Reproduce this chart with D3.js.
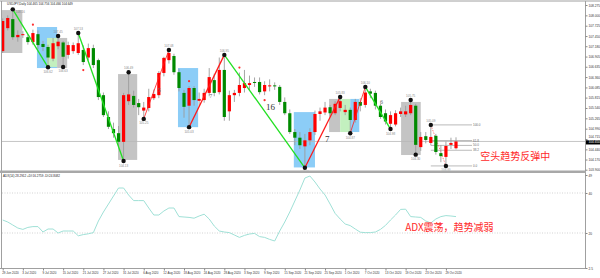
<!DOCTYPE html>
<html><head><meta charset="utf-8">
<script src="https://cdn.jsdelivr.net/npm/d3@7"></script>
<style>html,body{margin:0;padding:0;background:#fff;overflow:hidden}svg{display:block}</style>
</head><body><svg id="c" width="600" height="278"></svg>
<script>
const dates = ["2020-06-29","2020-06-30",
"2020-07-01","2020-07-02","2020-07-03","2020-07-06","2020-07-07","2020-07-08","2020-07-09","2020-07-10","2020-07-13","2020-07-14","2020-07-15","2020-07-16","2020-07-17","2020-07-20","2020-07-21","2020-07-22","2020-07-23","2020-07-24","2020-07-27","2020-07-28","2020-07-29","2020-07-30","2020-07-31",
"2020-08-03","2020-08-04","2020-08-05","2020-08-06","2020-08-07","2020-08-10","2020-08-11","2020-08-12","2020-08-13","2020-08-14","2020-08-17","2020-08-18","2020-08-19","2020-08-20","2020-08-21","2020-08-24","2020-08-25","2020-08-26","2020-08-27","2020-08-28","2020-08-31",
"2020-09-01","2020-09-02","2020-09-03","2020-09-04","2020-09-07","2020-09-08","2020-09-09","2020-09-10","2020-09-11","2020-09-14","2020-09-15","2020-09-16","2020-09-17","2020-09-18","2020-09-21","2020-09-22","2020-09-23","2020-09-24","2020-09-25","2020-09-28","2020-09-29","2020-09-30",
"2020-10-01","2020-10-02","2020-10-05","2020-10-06","2020-10-07","2020-10-08","2020-10-09","2020-10-12","2020-10-13","2020-10-14","2020-10-15","2020-10-16","2020-10-19","2020-10-20","2020-10-21","2020-10-22","2020-10-23","2020-10-26","2020-10-27","2020-10-28","2020-10-29","2020-10-30",
"2020-11-02"];
const open = [107.05,107.66,107.90,107.42,107.48,107.42,107.29,107.50,107.24,107.16,
106.85,107.18,107.28,106.95,107.05,107.00,107.08,106.88,107.13,106.81,
105.88,105.30,104.98,104.87,104.64,105.72,105.86,105.67,105.47,105.54,
105.80,105.88,106.47,106.81,106.92,106.49,105.94,105.60,106.07,105.73,
105.75,105.94,106.28,105.96,106.55,105.45,105.88,105.94,106.07,106.15,
106.23,106.23,105.98,106.12,106.14,106.10,105.70,105.40,104.90,104.75,
104.52,104.68,104.90,105.38,105.42,105.56,105.40,105.54,105.43,105.49,
105.22,105.70,105.62,105.98,105.94,105.60,105.40,105.12,105.10,105.38,
105.37,105.40,105.60,104.50,104.79,104.61,104.80,104.34,104.24,104.56,
104.47];
const high = [107.92,108.00,108.16,107.60,107.58,107.50,107.62,107.60,107.32,107.22,
107.40,107.45,107.32,107.30,107.28,107.53,107.20,107.25,107.22,106.85,
105.95,105.45,105.15,105.06,105.94,106.49,106.00,105.78,105.70,106.05,
106.03,106.52,106.90,107.08,106.98,106.58,106.02,106.12,106.12,105.95,
106.05,106.60,106.45,106.88,106.95,106.00,106.02,106.48,106.55,106.40,
106.35,106.35,106.25,106.30,106.22,106.15,105.82,105.50,104.98,104.90,
104.85,105.00,105.47,105.55,105.70,105.62,105.72,105.83,105.62,105.55,
105.78,105.80,106.10,106.05,106.00,105.65,105.50,105.45,105.48,105.55,
105.60,105.75,105.65,104.90,104.90,105.09,104.85,104.55,104.65,104.75,
104.76];
const low = [107.00,107.60,107.35,107.30,107.40,107.22,107.22,107.10,107.05,106.62,
106.78,107.10,106.63,106.85,106.98,106.95,106.68,106.80,106.60,105.75,
105.30,104.98,104.75,104.50,104.13,105.62,105.55,105.35,105.25,105.45,
105.75,105.80,106.38,106.72,106.42,105.98,105.28,105.03,105.60,105.58,
105.68,105.85,105.85,105.90,105.20,105.20,105.70,105.85,105.95,106.02,
106.10,105.90,105.88,105.98,106.02,105.62,105.35,104.85,104.55,104.45,
103.95,104.55,104.82,105.20,105.35,105.32,105.35,105.45,105.35,104.87,
105.15,105.45,105.55,105.80,105.50,105.25,105.10,104.98,105.05,105.30,
105.30,105.35,104.30,104.40,104.60,104.55,104.30,104.10,104.00,104.45,
104.44];
const close = [107.85,107.93,107.42,107.48,107.50,107.29,107.53,107.21,107.16,106.88,
107.26,107.30,106.90,107.21,107.21,107.26,106.76,107.13,106.68,105.83,
105.35,105.04,104.87,104.64,105.88,105.90,105.62,105.56,105.55,105.83,
105.91,106.47,106.87,107.00,106.49,106.07,105.57,106.07,105.75,105.78,
105.94,106.36,105.94,106.55,105.30,105.88,105.94,106.15,106.20,106.20,
106.21,105.96,106.15,106.14,106.12,105.70,105.40,104.90,104.75,104.55,
104.68,104.90,105.38,105.45,105.55,105.40,105.65,105.72,105.49,105.22,
105.70,105.60,105.95,105.92,105.60,105.30,105.18,105.35,105.40,105.45,
105.45,105.62,104.56,104.77,104.69,104.77,104.37,104.26,104.53,104.61,
104.65];
const adx = [26.5,25.5,24.0,22.5,21.8,22.8,23.2,23.2,20.5,22.0,
22.0,20.0,21.0,21.0,21.0,18.6,19.2,19.6,20.2,26.0,
30.5,34.5,38.5,42.5,42.5,39.0,36.2,36.2,36.2,32.5,
29.0,29.0,31.0,32.5,32.5,28.2,28.0,27.8,27.4,28.5,
29.4,27.0,23.5,21.0,20.5,20.2,19.0,17.8,18.8,19.5,
19.8,18.2,17.8,16.8,16.0,21.0,25.5,30.5,36.0,41.5,
47.5,48.5,45.5,42.0,39.0,34.5,29.8,27.0,24.5,23.7,
22.0,20.4,20.2,20.2,20.5,21.8,23.8,26.5,29.0,31.8,
31.9,28.2,28.0,27.8,26.0,25.0,27.0,28.2,28.7,28.5,
28.2];
const priceTicks = ["108.275","108.000","107.725","107.450","107.180","106.905","106.635","106.360","106.085","105.815","105.540","105.265","104.990","104.715","104.440","104.170","103.900"];
const adxTicks = [49, 40, 20, 2.5];
const adxLevels = [40, 20];
// pivots: bar index, 1 = swing high, 0 = swing low
const pivotIdx  = [2,9,11,12,15,24,25,28,33,37,44,60,67,69,72,77,81,82,85,88];
const pivotHigh = [1,0,1,0,1,0,1,0,1,0,1,0,1,0,1,0,1,0,1,0];
const zigFrom = [2,15,28,37,44,60,69,72];
const zigTo   = [9,24,33,44,60,67,72,77];
const zigMinor = [0,0,1,0,0,0,1,0];
const fibLevels = [1, 0.618, 0.5, 0.382, 0];
const fibLabels = ["100.0","61.8","50.0","38.2","0.0"];
const fibHighIdx = 85, fibLowIdx = 88;
const zoneStart = [-0.5,6.8,8.8,10.8,22.9,34.8,57.8,64.8,67.0,69.0,79.1];
const zoneEnd   = [3.9,10.8,10.8,12.8,26.7,38.8,62.0,67.0,69.0,70.8,83.0];
const zoneTop   = [108.14,107.69,107.40,107.40,106.44,106.60,105.43,105.78,105.78,105.78,105.70];
const zoneBottom= [107.00,106.60,106.63,106.60,104.16,105.03,103.96,104.90,104.90,104.90,104.29];
const zoneKind  = ["gray","blue","green","gray","gray","blue","blue","gray","green","blue","gray"];
const redMarkIdx = [6,16,37,47,52];
const redMarkHigh = [1,0,1,1,0];
const noteText = ["5","7","16","7","6"];
const noteIdx = [30.8,41.0,52.3,64.0,74.9];
const notePrice = [105.96,105.80,105.49,104.64,105.64];
const noteBig = [0,0,1,1,0];
const header = "USDJPY,Daily  104.465 104.756 104.466 104.649";
const adxHeader = "ADX(14) 28.2912 +DI:16.2759 -DI:24.8082";
const mainNote = "空头趋势反弹中", mainNoteIdx = 94.8, mainNotePrice = 104.16;
const adxNote = "ADX震荡，趋势减弱", adxNoteIdx = 79.9, adxNoteVal = 21;

const svg = d3.select("#c");
svg.append("rect").attr("width",600).attr("height",278).attr("fill","#fff");
const defs = svg.append("defs");
defs.append("clipPath").attr("id","cm").append("rect").attr("x",2).attr("y",1.5).attr("width",583).attr("height",169);
defs.append("clipPath").attr("id","ci").append("rect").attr("x",2).attr("y",173).attr("width",583).attr("height",95.5);

const x = d3.scaleLinear().domain([0,90]).range([2.7,456]);
const y = d3.scaleLinear().domain([103.9,108.275]).range([169.7,5]);
const ya = d3.scaleLinear().domain([0,50]).range([273,173]);
const parse = d3.timeParse("%Y-%m-%d"), fmt = d3.timeFormat("%-d %b %Y");
const zoneColor = {gray:"#c4c4c4", blue:"#8ccdf7", green:"#c3f0bf"};

const main = svg.append("g").attr("clip-path","url(#cm)");
main.selectAll("rect.z").data(zoneStart).join("rect")
  .attr("x",(d)=>x(d)).attr("width",(d,i)=>x(zoneEnd[i])-x(d))
  .attr("y",(d,i)=>y(zoneTop[i])).attr("height",(d,i)=>y(zoneBottom[i])-y(zoneTop[i]))
  .attr("fill",(d,i)=>zoneColor[zoneKind[i]]);
main.append("line").attr("x1",2).attr("x2",585).attr("y1",y(close[90])).attr("y2",y(close[90]))
  .attr("stroke","#b8b8b8").attr("stroke-width",0.8);
const fh = high[fibHighIdx], fl = low[fibLowIdx];
fibLevels.forEach((lv,k)=>{
  const py = y(fl + lv*(fh-fl));
  main.append("line").attr("x1",x(fibHighIdx)).attr("x2",472).attr("y1",py).attr("y2",py)
    .attr("stroke","#a8a8a8").attr("stroke-width",0.8);
  main.append("text").attr("x",473).attr("y",py+1).text(fibLabels[k])
    .attr("font-size",3).attr("fill","#666").attr("font-family","Liberation Sans");
});
main.append("line").attr("x1",x(fibHighIdx)).attr("y1",y(fh)).attr("x2",x(fibLowIdx)).attr("y2",y(fl))
  .attr("stroke","#ff5050").attr("stroke-width",0.7).attr("stroke-dasharray","1.5,1.2");
const idx = d3.range(dates.length);
main.selectAll("line.w").data(idx).join("line")
  .attr("x1",i=>x(i)).attr("x2",i=>x(i)).attr("y1",i=>y(high[i])).attr("y2",i=>y(low[i]))
  .attr("stroke","#9c9c9c").attr("stroke-width",0.9);
main.selectAll("rect.b").data(idx).join("rect")
  .attr("x",i=>x(i)-1.6).attr("width",3.2)
  .attr("y",i=>y(Math.max(open[i],close[i])))
  .attr("height",i=>Math.max(1,Math.abs(y(open[i])-y(close[i]))))
  .attr("fill",i=>close[i]>=open[i]?"#ff0000":"#008a00");
const pv = i => { const k = pivotIdx.indexOf(i); return pivotHigh[k] ? high[i] : low[i]; };
zigFrom.forEach((a,k)=>{
  const b = zigTo[k];
  const up = pv(b) > pv(a);
  main.append("line").attr("x1",x(a)).attr("y1",y(pv(a))).attr("x2",x(b)).attr("y2",y(pv(b)))
    .attr("stroke", up ? "#ff1a1a" : "#22e022").attr("stroke-width", zigMinor[k]?0.8:1.3);
});
redMarkIdx.forEach((i,k)=>{
  const cy = redMarkHigh[k] ? y(high[i])-5 : y(low[i])+5;
  main.append("circle").attr("cx",x(i)).attr("cy",cy).attr("r",1.1).attr("fill","#ff3030");
});
pivotIdx.forEach((i,k)=>{
  const p = pivotHigh[k] ? high[i] : low[i];
  const cy = y(p);
  main.append("circle").attr("cx",x(i)).attr("cy",cy).attr("r",2.2).attr("fill","#111");
  const nearTop = pivotHigh[k] && cy < 14;
  main.append("text")
    .attr("x", nearTop ? x(i)+3 : x(i))
    .attr("y", nearTop ? cy+3.5 : (pivotHigh[k]?cy-3:cy+5.5))
    .attr("text-anchor", nearTop ? "start" : "middle")
    .attr("font-size",3).attr("fill","#888").attr("font-family","Liberation Sans").text(p.toFixed(2));
});
noteText.forEach((t,k)=>{
  main.append("text").attr("x",x(noteIdx[k])).attr("y",y(notePrice[k])).text(t)
    .attr("font-size",noteBig[k]?9:6).attr("fill",noteBig[k]?"#333":"#666").attr("font-family","Liberation Serif");
});
svg.append("text").attr("x",x(mainNoteIdx)).attr("y",y(mainNotePrice)).text(mainNote)
  .attr("font-size",10).attr("fill","#ff2a2a").attr("font-family","Noto Sans CJK SC");
svg.append("text").attr("x",7).attr("y",4.8).text(header)
  .attr("font-size",3).attr("fill","#222").attr("font-family","Liberation Sans");

const ind = svg.append("g").attr("clip-path","url(#ci)");
adxLevels.forEach(v=>{
  ind.append("line").attr("x1",2).attr("x2",585).attr("y1",ya(v)).attr("y2",ya(v))
    .attr("stroke","#c8c8c8").attr("stroke-width",0.8).attr("stroke-dasharray","1,1.5");
});
ind.append("path").datum(idx)
  .attr("d", d3.line().x(i=>x(i)).y(i=>ya(adx[i])))
  .attr("fill","none").attr("stroke","#9fe0d6").attr("stroke-width",1);
svg.append("text").attr("x",3).attr("y",177).text(adxHeader)
  .attr("font-size",3).attr("fill","#222").attr("font-family","Liberation Sans");
svg.append("text").attr("x",x(adxNoteIdx)).attr("y",ya(adxNoteVal)).text(adxNote)
  .attr("font-size",10).attr("fill","#ff2a2a").attr("font-family","Noto Sans CJK SC");

const frame = svg.append("g").attr("stroke","#a0a0a0").attr("fill","none");
frame.append("line").attr("x1",0).attr("x2",600).attr("y1",1).attr("y2",1);
frame.append("line").attr("x1",1.5).attr("x2",1.5).attr("y1",1).attr("y2",269);
frame.append("line").attr("x1",585.5).attr("x2",585.5).attr("y1",1).attr("y2",269);
frame.append("line").attr("x1",0).attr("x2",586).attr("y1",268.5).attr("y2",268.5);
svg.append("rect").attr("x",0).attr("y",170.5).attr("width",586).attr("height",2.5).attr("fill","#a8a8a8");

const cy = y(close[90]);
const pAxis = svg.append("g").attr("transform","translate(585.5,0)")
  .call(d3.axisRight(y).tickValues(priceTicks.map(Number)).tickSize(2).tickFormat((d,i)=>priceTicks[i]));
pAxis.select(".domain").remove();
pAxis.selectAll("text").attr("font-size",3.2).attr("fill","#333").attr("x",3).attr("font-family","Liberation Sans")
  .attr("dy", d => Math.abs(y(d)-cy) < 4 ? "-0.4em" : "0.32em");
pAxis.selectAll("line").attr("stroke","#888");
svg.append("rect").attr("x",586).attr("y",cy-1.2).attr("width",14).attr("height",4.2).attr("fill","#000");
svg.append("text").attr("x",588.5).attr("y",cy+2).text(close[90].toFixed(3))
  .attr("font-size",3.2).attr("fill","#fff").attr("font-family","Liberation Sans");
const aAxis = svg.append("g").attr("transform","translate(585.5,0)")
  .call(d3.axisRight(ya).tickValues(adxTicks).tickSize(2).tickFormat(d3.format("~g")));
aAxis.select(".domain").remove();
aAxis.selectAll("text").attr("font-size",3.2).attr("fill","#333").attr("x",3).attr("font-family","Liberation Sans");
aAxis.selectAll("line").attr("stroke","#888");
const labIdx = idx.filter(i=>i%4===0 && i<=88);
const dAxis = svg.append("g").attr("transform","translate(0,268.5)")
  .call(d3.axisBottom(x).tickValues(labIdx).tickSize(2).tickFormat(i=>fmt(parse(dates[i]))));
dAxis.select(".domain").remove();
dAxis.selectAll("text").attr("font-size",3).attr("fill","#333").attr("text-anchor","start")
  .attr("dx",-1).attr("y",3.5).attr("font-family","Liberation Sans");
dAxis.selectAll("line").attr("stroke","#888");
</script></body></html>
